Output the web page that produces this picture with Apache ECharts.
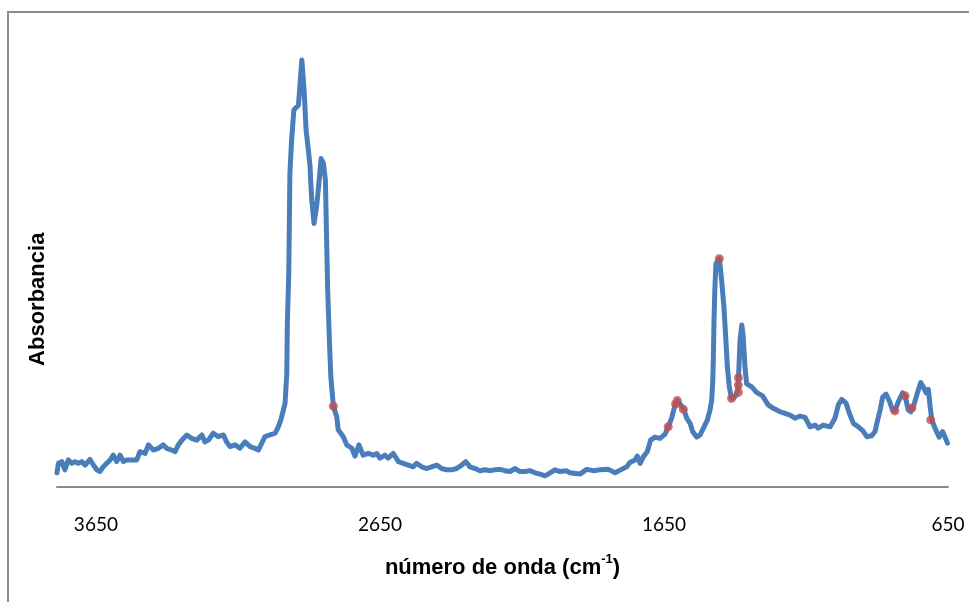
<!DOCTYPE html>
<html><head><meta charset="utf-8">
<script src="https://cdn.jsdelivr.net/npm/echarts@6/dist/echarts.min.js"></script>
<style>html,body{margin:0;padding:0;background:#fff}#c{width:969px;height:602px}</style>
</head><body><div id="c"></div>
<script>
// Wavenumbers (cm-1) of the traced spectrum
const wavenumber = [3787,3782,3770,3759,3747,3735,3724,3712,3700,3688,3671,3659,3647,3636,3624,3612,3600,3589,3577,3565,3553,3542,3524,3506,3495,3477,3465,3448,3430,3413,3401,3383,3371,3360,3342,3330,3313,3295,3277,3266,3254,3237,3219,3201,3190,3178,3160,3143,3125,3107,3090,3078,3066,3055,3037,3019,3008,2999,2990,
2984,2978,2976,2971,2969,2967,2961,2953,2937,2931,2925,2920,2917,2910,2902,2896,2894,2890,2882,2873,2865,2857,2849,2842,2837,2834,2828,2823,2814,2802,2797,2779,2767,2749,2738,2724,2709,2691,2673,2661,2650,2632,2621,2603,2585,2568,2550,2533,2521,2503,2485,2468,2450,2433,2415,2397,2380,2362,2348,2333,2315,2298,2280,2262,2245,2227,2210,2192,2174,2157,2139,2122,2104,2086,2069,2051,2034,2016,1995,1981,1969,1946,1922,1899,1875,1846,1822,1799,1781,1770,1752,1744,1734,1723,1709,1697,1682,1664,1646,1635,1623,1611,1603,1591,1579,1570,1558,1549,1535,1523,1509,1497,1488,1482,1478,1476,1474,1471,1467,1455,1447,1439,1432,1427,1420,1412,1400,1390,1387,1382,1376,1371,1365,1359,1341,1324,1303,1283,1265,1241,1224,1206,1189,1171,1153,1136,1118,1107,1089,1065,1048,1036,1024,1009,997,983,966,950,936,919,907,899,889,880,868,857,845,837,825,810,801,790,781,770,758,746,737,727,719,713,707,696,681,669,661,652];
// Absorbance values at those wavenumbers
const absorbance = [0.033,0.055,0.059,0.040,0.063,0.055,0.059,0.055,0.059,0.051,0.064,0.051,0.040,0.036,0.047,0.055,0.063,0.074,0.059,0.074,0.059,0.063,0.063,0.063,0.082,0.078,0.098,0.086,0.090,0.098,0.090,0.086,0.082,0.098,0.113,0.121,0.113,0.109,0.121,0.105,0.109,0.125,0.117,0.121,0.105,0.094,0.098,0.090,0.105,0.094,0.090,0.086,0.102,0.117,0.121,0.125,0.140,0.156,0.179,
0.195,0.264,0.381,0.497,0.613,0.730,0.807,0.877,0.888,0.939,0.993,0.993,0.923,0.830,0.784,0.745,0.714,0.667,0.613,0.652,0.706,0.764,0.753,0.714,0.551,0.458,0.342,0.257,0.188,0.163,0.133,0.117,0.098,0.090,0.072,0.098,0.074,0.078,0.074,0.078,0.067,0.074,0.067,0.078,0.059,0.055,0.051,0.047,0.055,0.047,0.043,0.047,0.051,0.043,0.040,0.040,0.043,0.051,0.059,0.047,0.043,0.038,0.040,0.038,0.040,0.041,0.038,0.036,0.043,0.036,0.036,0.038,0.033,0.030,0.026,0.033,0.040,0.036,0.038,0.033,0.032,0.030,0.041,0.038,0.040,0.041,0.033,0.041,0.047,0.057,0.063,0.072,0.055,0.070,0.082,0.109,0.116,0.113,0.123,0.140,0.160,0.191,0.201,0.191,0.179,0.160,0.148,0.129,0.116,0.121,0.140,0.156,0.179,0.202,0.249,0.303,0.381,0.458,0.520,0.531,0.481,0.419,0.342,0.280,0.233,0.206,0.210,0.222,0.264,0.342,0.377,0.350,0.280,0.240,0.233,0.220,0.212,0.191,0.183,0.175,0.171,0.167,0.160,0.165,0.162,0.140,0.144,0.137,0.144,0.140,0.160,0.191,0.204,0.195,0.171,0.148,0.140,0.131,0.117,0.119,0.129,0.152,0.179,0.209,0.216,0.201,0.179,0.177,0.198,0.219,0.212,0.179,0.175,0.191,0.218,0.243,0.233,0.219,0.227,0.187,0.156,0.137,0.116,0.129,0.117,0.102];
// Marked points (red)
const markWavenumber = [2814,1635,1609,1603,1582,1455,1412,1388,1388,1388,837,801,777,711];
const markAbsorbance = [0.188,0.140,0.193,0.201,0.181,0.531,0.206,0.220,0.237,0.254,0.177,0.212,0.184,0.156];
// Axis tick labels
const tickLabels = [650,1650,2650,3650];
const xTitle = 'número de onda (cm';
const xTitleSup = '-1';
const yTitle = 'Absorbancia';

const lineData = wavenumber.map((w,i)=>[w,absorbance[i]]);
const markData = markWavenumber.map((w,i)=>[w,markAbsorbance[i]]);

const chart = echarts.init(document.getElementById('c'), null, {renderer:'canvas'});
chart.setOption({
  backgroundColor:'#fff',
  animation:false,
  graphic:[{type:'rect',shape:{x:8,y:12,width:1100,height:1100},style:{fill:'none',stroke:'#8c8c8c',lineWidth:2},silent:true}],
  grid:{left:57,right:21,top:35.5,bottom:115,containLabel:false},
  xAxis:{
    type:'value', inverse:true, min:650, max:3787,
    axisLine:{show:true,lineStyle:{color:'#8a8a8a',width:2}},
    axisTick:{show:false},
    splitLine:{show:false},
    axisLabel:{customValues:tickLabels,formatter:(v)=>String(v),color:'#000',fontFamily:'Lato',fontSize:19,margin:28,showMinLabel:true,showMaxLabel:true},
    name:'{a|'+xTitle+'}{b|'+xTitleSup+'}{a|)}',
    nameLocation:'middle', nameGap:66,
    nameTextStyle:{rich:{a:{fontFamily:'Liberation Sans',fontWeight:'bold',fontSize:22,color:'#000',lineHeight:26,verticalAlign:'bottom'},b:{fontFamily:'Liberation Sans',fontWeight:'bold',fontSize:13,color:'#000',lineHeight:26,verticalAlign:'top'}}}
  },
  yAxis:{
    type:'value', min:0, max:1.05,
    axisLine:{show:false}, axisTick:{show:false}, axisLabel:{show:false}, splitLine:{show:false},
    name:yTitle, nameLocation:'middle', nameGap:8, nameRotate:90,
    nameTextStyle:{fontFamily:'Liberation Sans',fontWeight:'bold',fontSize:22,color:'#000',padding:[0,76,0,0]}
  },
  series:[
    {type:'line',data:lineData,showSymbol:false,lineStyle:{color:'#4A7EBB',width:5,join:'round',cap:'round'},itemStyle:{color:'#4A7EBB'},z:2},
    {type:'scatter',data:markData,symbol:'circle',symbolSize:9,itemStyle:{color:'#C0504D'},z:3}
  ]
});
</script></body></html>
